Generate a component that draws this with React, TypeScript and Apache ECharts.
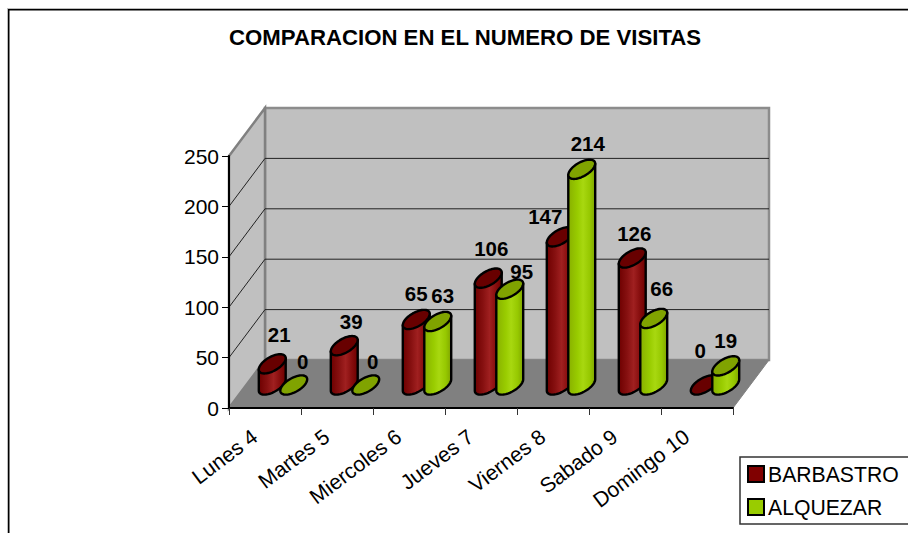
import React, { useEffect, useRef } from "react";
import * as echarts from "echarts";

const TITLE = "COMPARACION EN EL NUMERO DE VISITAS";
const categories = ["Lunes 4", "Martes 5", "Miercoles 6", "Jueves 7", "Viernes 8", "Sabado 9", "Domingo 10"];
const barbastro = [21, 39, 65, 106, 147, 126, 0];
const alquezar = [0, 0, 63, 95, 214, 66, 19];
const yTicks = [50, 100, 150, 200];

// Layout tuning (not data): where each value label sits relative to its cylinder top.
const redNudge = [[7, -29], [7, -24], [0, -26], [3, -30], [-15, -20], [2, -24], [-4, -35]];
const greenNudge = [[9, -24], [7, -24], [5, -26], [12, -18], [6, -26], [8, -30], [0, -25]];

const FONT = '"Liberation Sans", Arial, sans-serif';
const DEPTH_Y = 48;
const A = 15;
const B = 7;
const THETA = (-30 * Math.PI) / 180;

function ell(cx: number, cy: number, t: number) {
  return [
    cx + A * Math.cos(t) * Math.cos(THETA) - B * Math.sin(t) * Math.sin(THETA),
    cy + A * Math.cos(t) * Math.sin(THETA) + B * Math.sin(t) * Math.cos(THETA),
  ];
}

const T0 = Math.atan2(-B * Math.sin(THETA), A * Math.cos(THETA));

function disk(cx: number, cy: number) {
  const pts: number[][] = [];
  for (let i = 0; i < 64; i++) pts.push(ell(cx, cy, (i / 64) * Math.PI * 2));
  return pts;
}

function body(cx: number, topY: number, botY: number) {
  const pts: number[][] = [];
  for (let i = 0; i <= 32; i++) pts.push(ell(cx, botY, T0 + (i / 32) * Math.PI));
  pts.push(ell(cx, topY, T0 + Math.PI));
  pts.push(ell(cx, topY, T0));
  return pts;
}

function gradient(stops: [number, string][]) {
  return new echarts.graphic.LinearGradient(0, 0, 1, 0, stops.map(([offset, color]) => ({ offset, color })));
}

function cylinderSeries(
  name: string,
  values: number[],
  side: number,
  topColor: string,
  mainColor: string,
  stops: [number, string][],
  nudge: number[][],
  z: number
) {
  return {
    type: "custom",
    name,
    z,
    clip: false,
    itemStyle: { color: mainColor },
    encode: { x: 0, y: 1 },
    data: values.map((v, i) => [i, v]),
    renderItem: (params: any, api: any) => {
      const idx = api.value(0);
      const v = api.value(1);
      const band = api.size([1, 0])[0];
      const base = api.coord([idx, 0]);
      const top = api.coord([idx, v]);
      const cx = base[0] + band / 4 + (side * band) / 6.7;
      const botY = base[1] - DEPTH_Y / 2 + 1;
      const topY = top[1] - DEPTH_Y / 2 + 1;
      const children: any[] = [];
      const stroke = { stroke: "#000", lineWidth: 2.4, lineJoin: "round" };
      if (v > 0) {
        children.push({
          type: "polygon",
          shape: { points: body(cx, topY, botY) },
          style: { fill: gradient(stops), ...stroke },
        });
      }
      children.push({
        type: "polygon",
        shape: { points: disk(cx, topY) },
        style: { fill: topColor, ...stroke },
      });
      children.push({
        type: "text",
        z2: 50,
        style: {
          text: String(v),
          x: cx + nudge[idx][0],
          y: topY + nudge[idx][1],
          align: "center",
          verticalAlign: "middle",
          fill: "#000",
          font: `bold 20.5px ${FONT}`,
        },
      });
      return { type: "group", children };
    },
  };
}

export default function App() {
  const ref = useRef<HTMLDivElement>(null);
  useEffect(() => {
    const chart = echarts.init(ref.current!, null, { renderer: "svg" });
    chart.setOption({
      animation: false,
      backgroundColor: "#fff",
      textStyle: { fontFamily: FONT },
      title: {
        text: TITLE,
        left: 229,
        top: 26,
        padding: 0,
        textStyle: { fontFamily: FONT, fontSize: 22.2, fontWeight: "bold", color: "#000" },
      },
      grid: { left: 229, top: 156, width: 504, height: 252, containLabel: false },
      xAxis: {
        type: "category",
        data: categories,
        boundaryGap: true,
        z: 10,
        axisLine: { show: true, lineStyle: { color: "#000", width: 2 } },
        axisTick: { show: true, length: 7, alignWithLabel: false, lineStyle: { color: "#333", width: 1 } },
        axisLabel: { interval: 0, rotate: 37, margin: 18, padding: [0, 13, 0, 0], color: "#000", fontSize: 21.2, fontFamily: FONT },
        splitLine: { show: false },
      },
      yAxis: {
        type: "value",
        min: 0,
        max: 250,
        interval: 50,
        z: 10,
        axisLine: { show: true, lineStyle: { color: "#000", width: 2 } },
        axisTick: { show: true, length: 7, lineStyle: { color: "#000", width: 1 } },
        axisLabel: { margin: 10, color: "#000", fontSize: 21, fontFamily: FONT },
        splitLine: { show: false },
      },
      legend: {
        left: 740,
        top: 457,
        orient: "vertical",
        padding: [6.5, 14, 6.5, 7],
        itemWidth: 16,
        itemHeight: 16,
        itemGap: 12,
        height: 60,
        borderColor: "#333",
        borderWidth: 1.5,
        backgroundColor: "#fff",
        selectedMode: false,
        textStyle: { fontSize: 21.2, color: "#000", fontFamily: FONT, padding: [0, 0, 0, -1] },
        data: [
          { name: "BARBASTRO", icon: "rect", itemStyle: { color: "#800000", borderColor: "#000", borderWidth: 2 } },
          { name: "ALQUEZAR", icon: "rect", itemStyle: { color: "#99cc00", borderColor: "#000", borderWidth: 2 } },
        ],
      },
      graphic: [
        { type: "rect", silent: true, z: 100, shape: { x: 7, y: 8, width: 901, height: 1 }, style: { fill: "#bdbdbd" } },
        { type: "rect", silent: true, z: 100, shape: { x: 7, y: 9, width: 901, height: 1.5 }, style: { fill: "#000" } },
        { type: "rect", silent: true, z: 100, shape: { x: 7, y: 8, width: 1, height: 525 }, style: { fill: "#bdbdbd" } },
        { type: "rect", silent: true, z: 100, shape: { x: 8, y: 9, width: 1.5, height: 524 }, style: { fill: "#000" } },
      ],
      series: [
        {
          type: "custom",
          name: "walls",
          z: 1,
          clip: false,
          silent: true,
          data: [[0, 0]],
          encode: { x: 0, y: 1 },
          renderItem: (params: any, api: any) => {
            const cs = params.coordSys;
            const dx = api.size([1, 0])[0] / 2;
            const x0 = cs.x;
            const x1 = cs.x + cs.width;
            const yTop = cs.y;
            const yBot = cs.y + cs.height;
            return {
              type: "group",
              children: [
                {
                  type: "polygon",
                  shape: { points: [[x0 + dx, yTop - DEPTH_Y], [x1 + dx, yTop - DEPTH_Y], [x1 + dx, yBot - DEPTH_Y], [x0 + dx, yBot - DEPTH_Y]] },
                  style: { fill: "#c0c0c0", stroke: "#8c8c8c", lineWidth: 2.5 },
                },
                {
                  type: "polygon",
                  shape: { points: [[x0, yTop], [x0 + dx, yTop - DEPTH_Y], [x0 + dx, yBot - DEPTH_Y], [x0, yBot]] },
                  style: { fill: "#c0c0c0", stroke: "#808080", lineWidth: 2.5 },
                },
                {
                  type: "polygon",
                  shape: { points: [[x0, yBot], [x0 + dx, yBot - DEPTH_Y], [x1 + dx, yBot - DEPTH_Y], [x1, yBot]] },
                  style: { fill: "#808080", stroke: "#808080", lineWidth: 1 },
                },
              ],
            };
          },
        },
        {
          type: "custom",
          name: "gridlines",
          z: 2,
          clip: false,
          silent: true,
          data: yTicks.map((t) => [0, t]),
          encode: { x: 0, y: 1 },
          renderItem: (params: any, api: any) => {
            const cs = params.coordSys;
            const dx = api.size([1, 0])[0] / 2;
            const y = api.coord([0, api.value(1)])[1];
            return {
              type: "polyline",
              shape: { points: [[cs.x, y], [cs.x + dx, y - DEPTH_Y], [cs.x + cs.width + dx, y - DEPTH_Y]] },
              style: { fill: "none", stroke: "#222", lineWidth: 1 },
            };
          },
        },
        cylinderSeries(
          "BARBASTRO", barbastro, -1, "#680000", "#800000",
          [[0, "#6e0000"], [0.3, "#861010"], [0.55, "#a02020"], [0.8, "#840c0c"], [1, "#6e0000"]],
          redNudge, 3
        ),
        cylinderSeries(
          "ALQUEZAR", alquezar, 1, "#80a300", "#99cc00",
          [[0, "#88b000"], [0.35, "#99cc00"], [0.55, "#a8d810"], [0.8, "#96c800"], [1, "#80a400"]],
          greenNudge, 4
        ),
      ],
    });
    return () => chart.dispose();
  }, []);
  return <div ref={ref} style={{ position: "fixed", left: 0, top: 0, width: 908, height: 533 }} />;
}
